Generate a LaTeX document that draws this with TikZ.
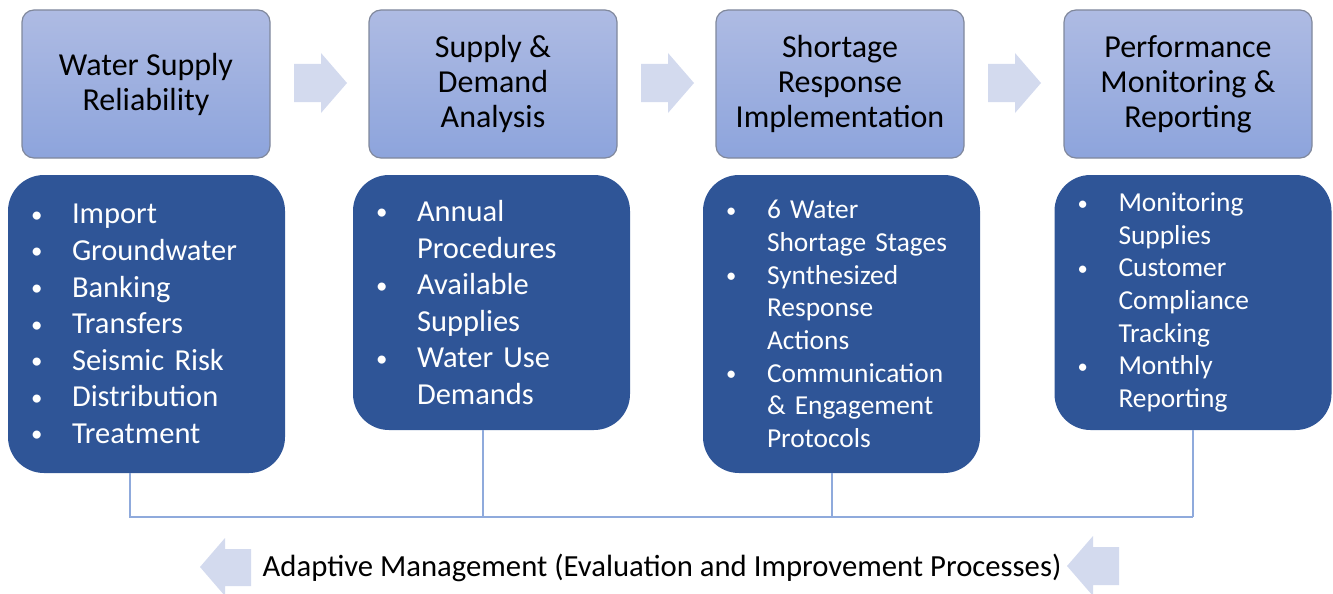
\documentclass[tikz,border=0pt]{standalone}
\usepackage{fontspec}
\setmainfont{Carlito}
\usetikzlibrary{calc}
\definecolor{hdrtop}{RGB}{174,187,227}
\definecolor{hdrbot}{RGB}{141,164,220}
\definecolor{hdrline}{RGB}{128,136,156}
\definecolor{bodyfill}{RGB}{47,85,151}
\definecolor{arrowfill}{RGB}{211,218,238}
\definecolor{connline}{RGB}{143,170,220}
\tikzset{
  hdr/.style={draw=hdrline, line width=1.2pt, top color=hdrtop, bottom color=hdrbot,
    rounded corners=12pt, minimum width=248pt, minimum height=148pt, align=center,
    font=\fontsize{32}{35}\selectfont, inner sep=0pt},
  bodybox/.style={fill=bodyfill, draw=none, rounded corners=36pt, minimum width=277pt,
    text width=231pt, inner xsep=23pt, inner ysep=0pt, text=white, align=left},
  bigtext/.style={font=\fontsize{30.5}{36.6}\selectfont},
  smalltext/.style={font=\fontsize{27.4}{32.7}\selectfont},
  conn/.style={draw=connline, line width=1.1pt},
  flowarrow/.style={fill=arrowfill, draw=none},
}
\newcommand{\bl}{\makebox[41pt][l]{\raisebox{0.05em}{\scalebox{0.75}{•}}}}
\newcommand{\nb}{\hspace*{41pt}}
\begin{document}
\begin{tikzpicture}[x=1pt,y=-1pt]
\useasboundingbox (0,0) rectangle (1333,594);
% headers
\node[hdr] (h1) at (146,84) {Water Supply\\Reliability};
\node[hdr] (h2) at (493,84) {Supply \&\\Demand\\Analysis};
\node[hdr] (h3) at (840,84) {Shortage\\Response\\Implementation};
\node[hdr] (h4) at (1188,84) {Performance\\Monitoring \&\\Reporting};
% flow arrows between headers
\foreach \dx in {0,347,694}{
  \fill[flowarrow] (294+\dx,64) -- (321+\dx,64) -- (321+\dx,53) -- (347+\dx,83)
    -- (321+\dx,113) -- (321+\dx,102) -- (294+\dx,102) -- cycle;
}
% body boxes
\node[bodybox, bigtext, minimum height=298pt] (b1) at (146.5,324) {%
  \bl Import\\ \bl Groundwater\\ \bl Banking\\ \bl Transfers\\ \bl Seismic Risk\\ \bl Distribution\\ \bl Treatment};
\node[bodybox, bigtext, minimum height=255pt] (b2) at (491.5,302.5) {%
  \bl Annual\\ \nb Procedures\\ \bl Available\\ \nb Supplies\\ \bl Water Use\\ \nb Demands};
\node[bodybox, smalltext, minimum height=298pt] (b3) at (841.5,324) {%
  \bl 6 Water\\ \nb Shortage Stages\\ \bl Synthesized\\ \nb Response\\ \nb Actions\\ \bl Communication\\ \nb \& Engagement\\ \nb Protocols};
\node[bodybox, smalltext, minimum height=255pt] (b4) at (1193,302.5) {%
  \bl Monitoring\\ \nb Supplies\\ \bl Customer\\ \nb Compliance\\ \nb Tracking\\ \bl Monthly\\ \nb Reporting};
% connectors
\coordinate (j1) at (130,517);
\coordinate (j2) at (483,517);
\coordinate (j3) at (832,517);
\coordinate (j4) at (1193,517);
\draw[conn] (j1 |- b1.south) -- (j1) -- (j4);
\draw[conn] (j2 |- b2.south) -- (j2);
\draw[conn] (j3 |- b3.south) -- (j3);
\draw[conn] (j4 |- b4.south) -- (j4);
% bottom label and arrows
\node[font=\fontsize{30.7}{36}\selectfont, inner sep=0pt] (lbl) at (662,568) {Adaptive Management (Evaluation and Improvement Processes)};
\fill[flowarrow] (200,567) -- (225,538) -- (225,549) -- (251,549) -- (251,586) -- (225,586) -- (225,596) -- cycle;
\fill[flowarrow] (1067,566) -- (1093,536) -- (1093,547) -- (1119,547) -- (1119,585) -- (1093,585) -- (1093,596) -- cycle;
\end{tikzpicture}
\end{document}
